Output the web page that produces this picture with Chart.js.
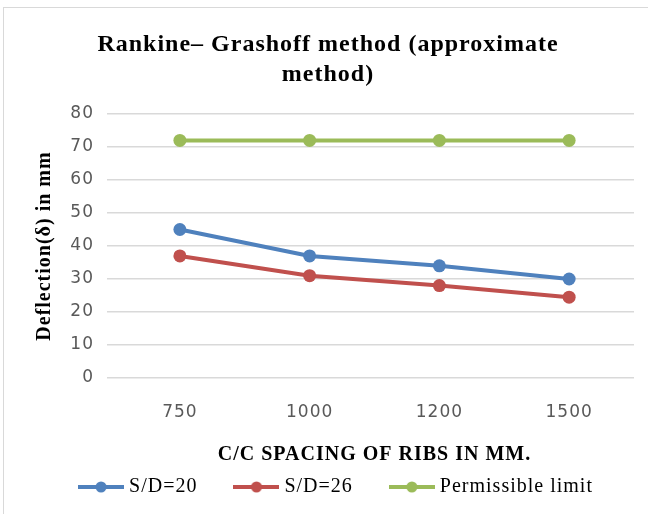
<!DOCTYPE html>
<html><head><meta charset="utf-8">
<script src="https://cdn.jsdelivr.net/npm/chart.js@4/dist/chart.umd.min.js"></script>
<style>
html,body{margin:0;padding:0;background:#fff;overflow:hidden;width:648px;height:514px}
#frame{position:absolute;left:3px;top:7px;width:700px;height:600px;border:1px solid #d9d9d9;}
#wrap{position:absolute;left:0;top:0;width:648px;height:514px}
</style></head>
<body><div id="frame"></div><div id="wrap"><canvas id="c"></canvas></div>
<script>
const categories = ['750', '1000', '1200', '1500'];
const seriesNames = ['S/D=20', 'S/D=26', 'Permissible limit'];
const sd20 = [45, 37, 34, 30];
const sd26 = [37, 31, 28, 24.5];
const permissible = [72, 72, 72, 72];
const yMin = 0, yMax = 80, yStep = 10;

const colors = ['#4f81bd', '#c0504d', '#9bbb59'];

function legendImg(color) {
  const c = document.createElement('canvas');
  c.width = 46; c.height = 14;
  const x = c.getContext('2d');
  x.strokeStyle = color; x.lineWidth = 4;
  x.beginPath(); x.moveTo(0, 7); x.lineTo(46, 7); x.stroke();
  x.fillStyle = color;
  x.beginPath(); x.arc(23, 7, 5.5, 0, Math.PI * 2); x.fill();
  return c;
}
const legendImgs = colors.map(legendImg);

const spacing = {
  id: 'spacing',
  beforeLayout(c) { c.ctx.letterSpacing = '1px'; },
  beforeDraw(c) { c.ctx.letterSpacing = '1px'; }
};
const legendShift = {
  id: 'legendShift',
  afterLayout(c) {
    if (c.legend) { c.legend.left += 10; c.legend.right += 10; c.legend.top += 1; c.legend.bottom += 1; }
  }
};

function ds(label, data, color) {
  return {
    label, data,
    borderColor: color, backgroundColor: color,
    borderWidth: 4, pointRadius: 6.5, pointHoverRadius: 6.5,
    pointBackgroundColor: color, pointBorderColor: color, pointBorderWidth: 0,
    tension: 0, fill: false
  };
}

new Chart(document.getElementById('c'), {
  type: 'line',
  plugins: [spacing, legendShift],
  data: {
    labels: categories,
    datasets: [
      ds(seriesNames[0], sd20, colors[0]),
      ds(seriesNames[1], sd26, colors[1]),
      ds(seriesNames[2], permissible, colors[2])
    ]
  },
  options: {
    responsive: true, maintainAspectRatio: false, animation: false,
    layout: { padding: { left: 22, right: 14, top: 30, bottom: 8 } },
    plugins: {
      title: {
        display: true,
        text: ['Rankine\u2013 Grashoff method (approximate', 'method)'],
        color: '#000',
        font: { family: 'Liberation Serif', size: 24, weight: 'bold', lineHeight: '30px' },
        padding: { top: 0, bottom: 24 }
      },
      legend: {
        position: 'bottom',
        labels: {
          usePointStyle: true,
          pointStyleWidth: 36,
          boxHeight: 14,
          padding: 41,
          color: '#000',
          font: { family: 'Liberation Serif', size: 20 },
          generateLabels(chart) {
            const items = Chart.defaults.plugins.legend.labels.generateLabels(chart);
            items.forEach((it, i) => { it.pointStyle = legendImgs[i]; });
            return items;
          }
        }
      },
      tooltip: { enabled: false }
    },
    scales: {
      x: {
        offset: true,
        grid: { display: false, drawTicks: false },
        border: { display: false },
        ticks: { color: '#595959', font: { family: 'DejaVu Sans', size: 17 }, padding: 24 },
        title: {
          display: true, text: 'C/C SPACING OF RIBS IN MM.', color: '#000',
          font: { family: 'Liberation Serif', size: 20, weight: 'bold' },
          padding: { top: 0, bottom: -32 }
        },
        afterFit(s) { s.height = 57; }
      },
      y: {
        min: yMin, max: yMax,
        grid: { color: '#d9d9d9', lineWidth: 1.5, tickLength: 8 },
        border: { display: false },
        ticks: { stepSize: yStep, color: '#595959', font: { family: 'DejaVu Sans', size: 17 }, padding: 13 },
        title: {
          display: true, text: 'Deflection(\u03b4) in mm', color: '#000',
          font: { family: 'Liberation Serif', size: 20, weight: 'bold' },
          padding: { top: 11, bottom: 0 }
        },
        afterFit(s) { s.width = 93; }
      }
    }
  }
});
</script>
</body></html>
